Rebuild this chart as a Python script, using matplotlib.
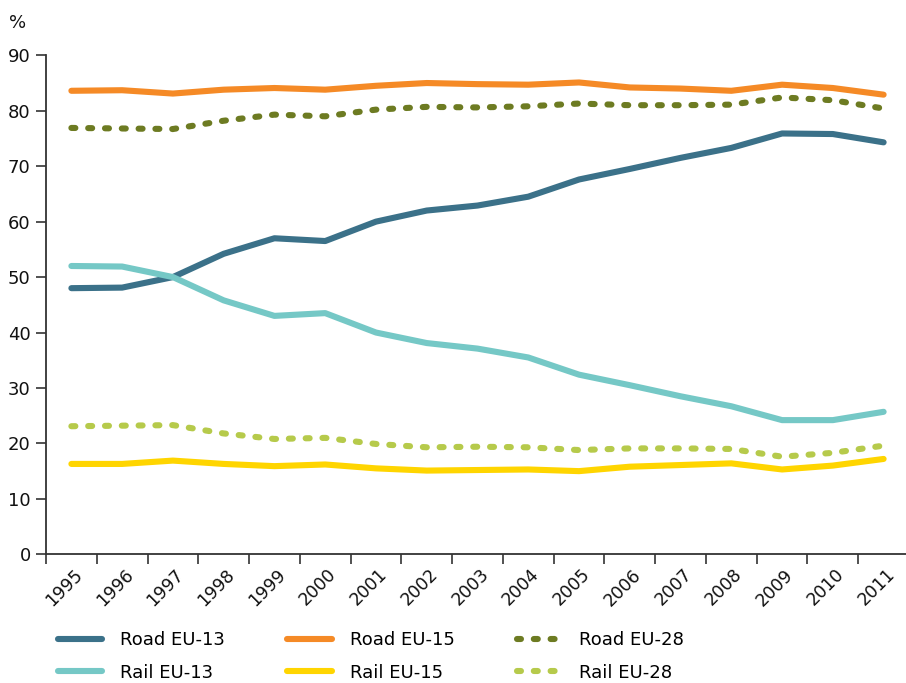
import matplotlib
matplotlib.use('Agg')
import matplotlib.pyplot as plt
import matplotlib.transforms as mtransforms
import numpy as np

years = ['1995', '1996', '1997', '1998', '1999', '2000', '2001', '2002', '2003',
         '2004', '2005', '2006', '2007', '2008', '2009', '2010', '2011']

road_eu13 = [48.0, 48.1, 50.0, 54.2, 57.0, 56.5, 60.0, 62.0, 62.9, 64.5, 67.6,
             69.5, 71.5, 73.3, 75.9, 75.8, 74.3]
road_eu15 = [83.6, 83.7, 83.1, 83.8, 84.1, 83.8, 84.5, 85.0, 84.8, 84.7, 85.1,
             84.2, 84.0, 83.6, 84.7, 84.1, 82.9]
road_eu28 = [76.9, 76.8, 76.7, 78.2, 79.3, 79.0, 80.2, 80.7, 80.6, 80.8, 81.3,
             81.0, 81.0, 81.1, 82.4, 81.9, 80.4]
rail_eu13 = [52.0, 51.9, 50.0, 45.8, 43.0, 43.5, 40.0, 38.1, 37.1, 35.5, 32.4,
             30.5, 28.5, 26.7, 24.2, 24.2, 25.7]
rail_eu15 = [16.3, 16.3, 16.9, 16.3, 15.9, 16.2, 15.5, 15.1, 15.2, 15.3, 15.0,
             15.8, 16.1, 16.4, 15.3, 16.0, 17.2]
rail_eu28 = [23.1, 23.2, 23.3, 21.8, 20.8, 21.0, 19.9, 19.3, 19.4, 19.3, 18.8,
             19.1, 19.1, 19.0, 17.6, 18.3, 19.6]

plt.rcParams['font.family'] = ['DejaVu Sans']

fig = plt.figure(figsize=(9.06, 6.83), dpi=100)
ax = fig.add_axes([46 / 906, 1 - 554.3 / 683, 863 / 906, 499 / 683])

x = np.arange(len(years))
lw = 4.4
dots = (0.65, 2.1)

ax.plot(x, road_eu13, color='#3b7189', lw=lw, solid_capstyle='round', label='Road EU-13')
ax.plot(x, road_eu15, color='#f58a26', lw=lw, solid_capstyle='round', label='Road EU-15')
ax.plot(x, road_eu28, color='#6d7b22', lw=lw, dashes=dots, dash_capstyle='round', label='Road EU-28')
ax.plot(x, rail_eu13, color='#75c8c6', lw=lw, solid_capstyle='round', label='Rail EU-13')
ax.plot(x, rail_eu15, color='#ffd500', lw=lw, solid_capstyle='round', label='Rail EU-15')
ax.plot(x, rail_eu28, color='#b6ca4b', lw=lw, dashes=dots, dash_capstyle='round', label='Rail EU-28')

ax.set_xlim(-0.5, len(years) - 0.5)
ax.set_ylim(0, 90)
ax.set_yticks(range(0, 91, 10))

# tick marks on category boundaries, labels at category centres
ax.set_xticks(np.arange(len(years) + 1) - 0.5)
ax.set_xticklabels([])
ax.set_xticks(x, minor=True)
ax.set_xticklabels(years, minor=True, rotation=45, ha='right', va='top',
                   rotation_mode='anchor')
ax.tick_params(axis='x', which='minor', length=0, pad=8)
offset = mtransforms.ScaledTranslation(2 / 100, 0, fig.dpi_scale_trans)
for lab in ax.get_xticklabels(minor=True):
    lab.set_transform(lab.get_transform() + offset)

ax.tick_params(axis='both', which='major', length=7, width=1.2, color='#333333',
               labelcolor='#111111')
ax.tick_params(axis='y', which='major', labelsize=13, pad=4)
ax.tick_params(axis='x', which='minor', labelsize=12.5, labelcolor='#111111')
for s in ['top', 'right']:
    ax.spines[s].set_visible(False)
for s in ['left', 'bottom']:
    ax.spines[s].set_color('#333333')
    ax.spines[s].set_linewidth(1.3)

fig.text(9 / 906, 1 - 23.5 / 683, '%', fontsize=13, va='center', ha='left', color='#111111')

handles, labels = ax.get_legend_handles_labels()
order = [0, 3, 1, 4, 2, 5]
fig.legend([handles[i] for i in order], [labels[i] for i in order],
           loc='upper left', bbox_to_anchor=(58 / 906, 1 - 631 / 683), ncol=3,
           frameon=False, fontsize=13, handlelength=2.45, handletextpad=1.0,
           columnspacing=3.45, labelspacing=0.82, borderpad=0, borderaxespad=0)

fig.savefig('out.png', dpi=100)
